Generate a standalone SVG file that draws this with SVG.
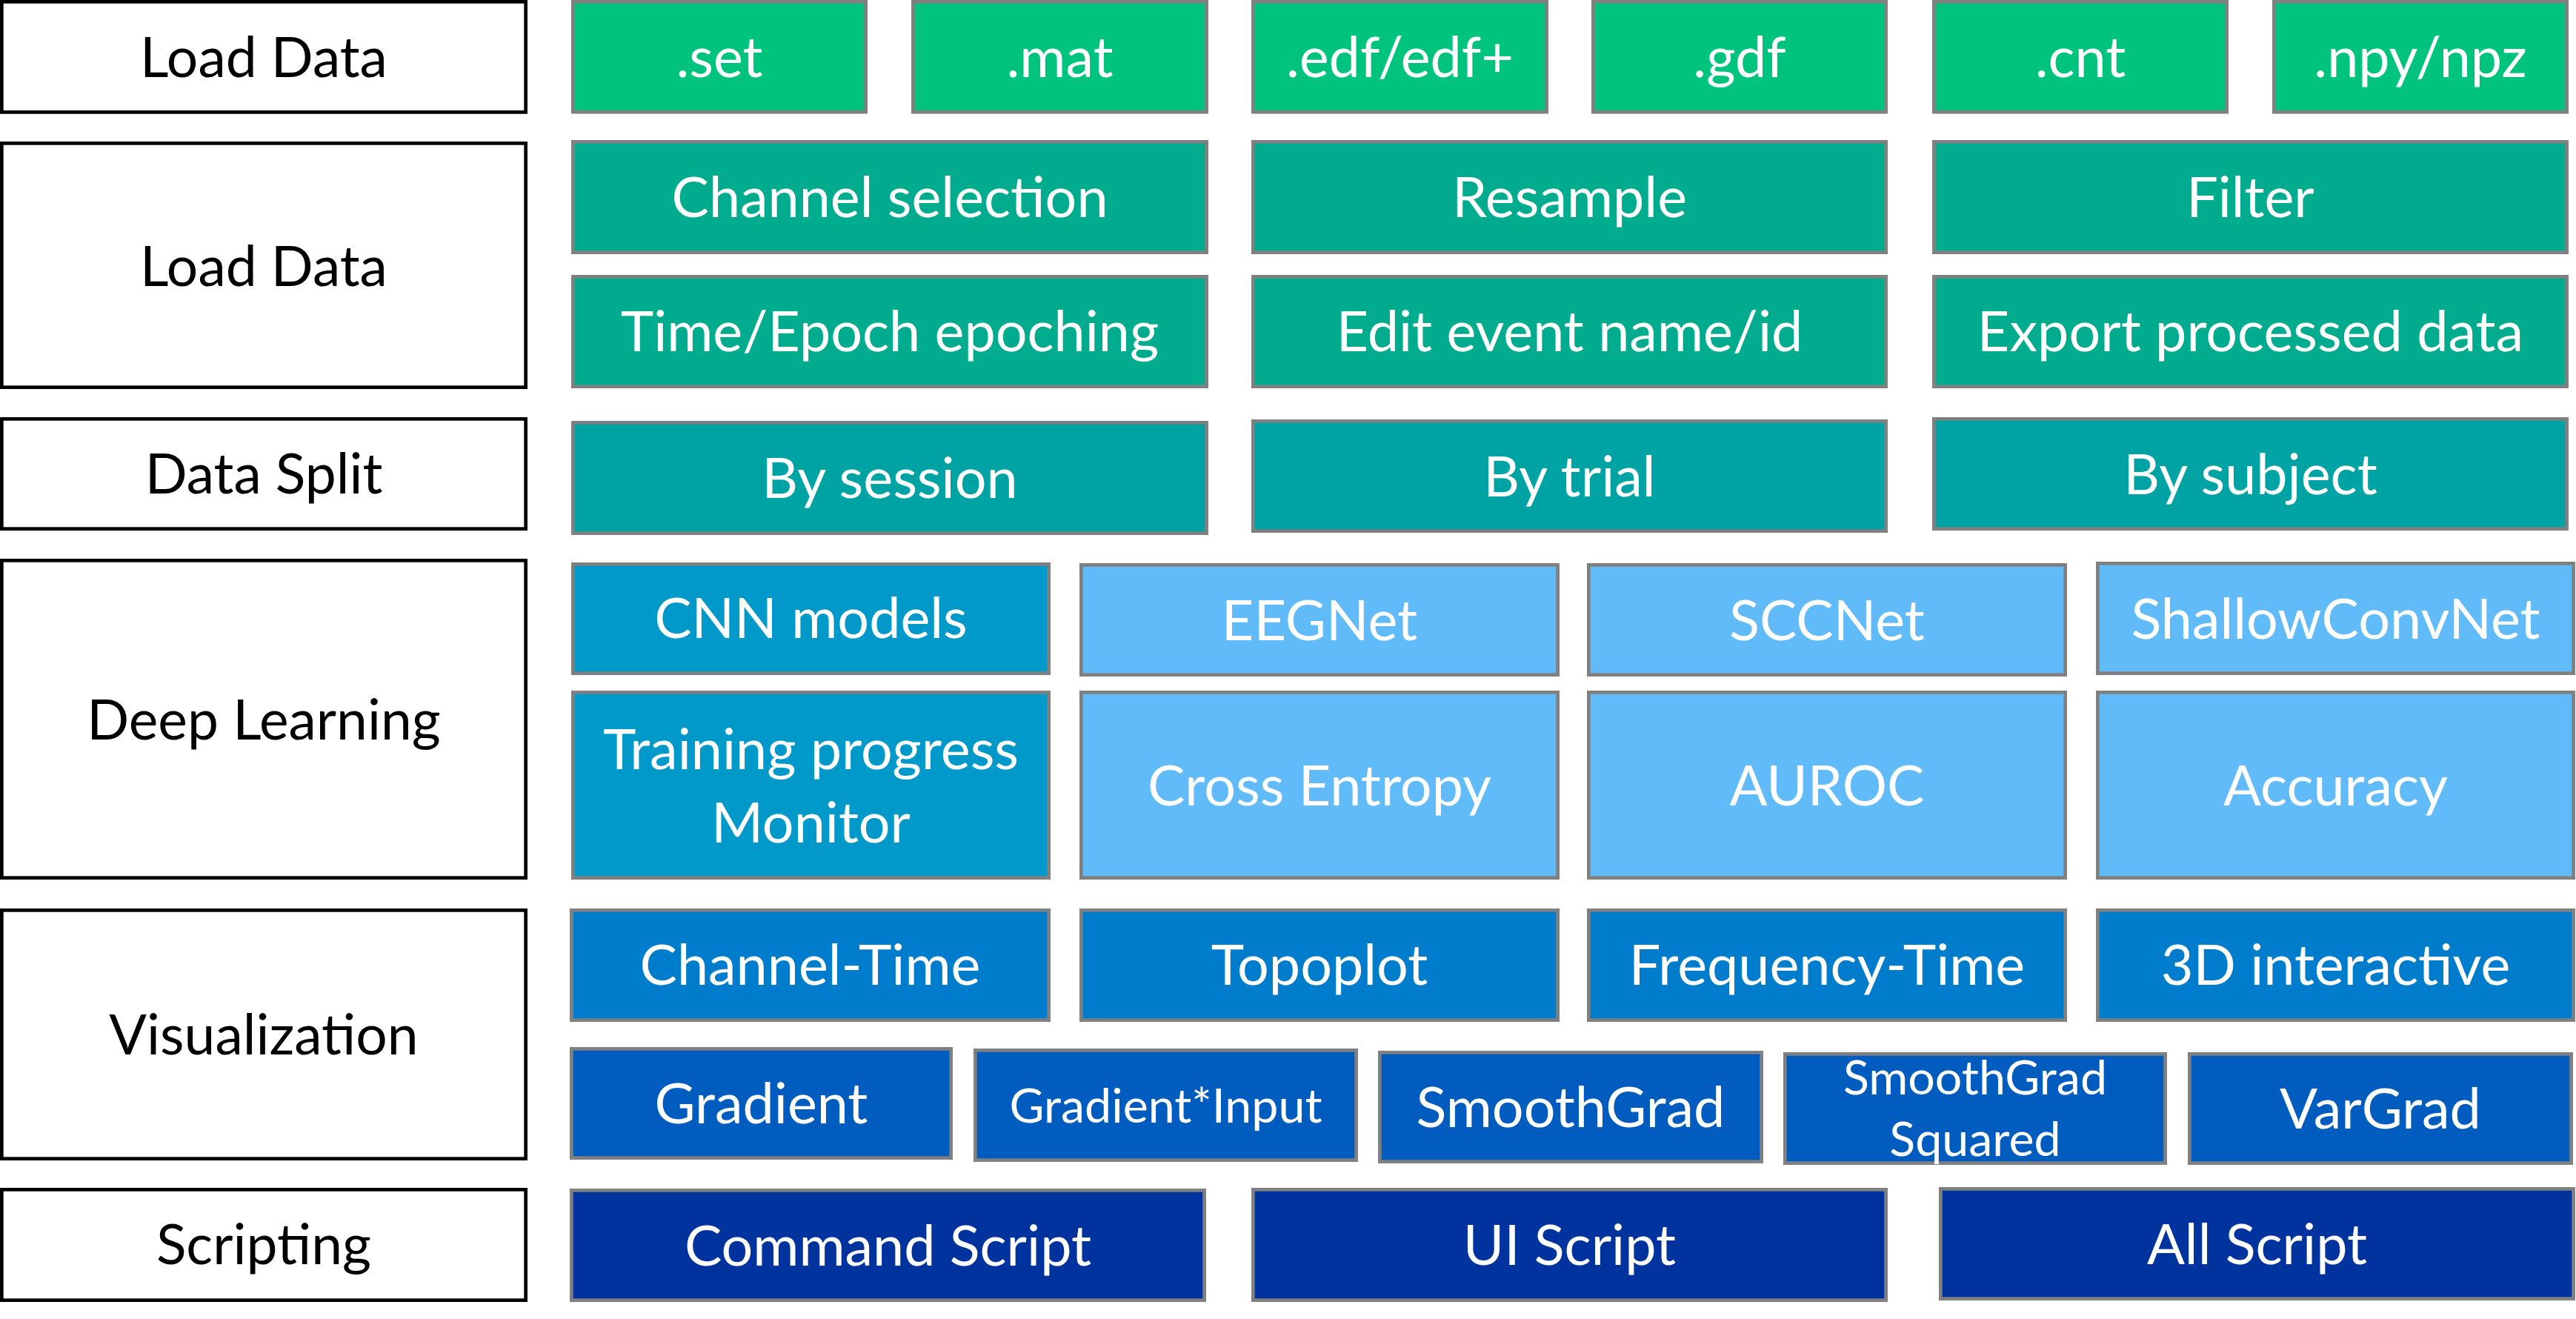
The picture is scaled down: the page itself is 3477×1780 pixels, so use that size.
<svg xmlns="http://www.w3.org/2000/svg" width="3477" height="1780" viewBox="0 0 3477 1780">
<style>
  .lab rect { fill: #ffffff; stroke: #000000; stroke-width: 4.7; }
  .lab text { fill: #000000; font-family: Lato, "Open Sans", "Liberation Sans", sans-serif; font-size: 75px; text-anchor: middle; }
  .nd rect { stroke: #808080; stroke-width: 4.7; }
  .nd text { fill: #ffffff; font-family: Lato, "Open Sans", "Liberation Sans", sans-serif; font-size: 75.5px; text-anchor: middle; }
  .nd text.sm { font-size: 64.5px; }
  .c1 rect { fill: #00C37E; }
  .c2 rect { fill: #00AB8E; }
  .c3 rect { fill: #00A3A3; }
  .c4 rect { fill: #0099C9; }
  .c5 rect { fill: #62BBF9; }
  .c6 rect { fill: #007CCC; }
  .c7 rect { fill: #005CBF; }
  .c8 rect { fill: #00339E; }
</style>
<rect x="0" y="0" width="3477" height="1780" fill="#ffffff"/>

<g id="labels">
  <g id="label-load" class="lab"><rect x="2.35" y="2.35" width="707.3" height="149"/><text x="356" y="104">Load Data</text></g>
  <g id="label-preprocess" class="lab"><rect x="2.35" y="193.35" width="707.3" height="329.3"/><text x="356" y="386">Load Data</text></g>
  <g id="label-split" class="lab"><rect x="2.35" y="565.35" width="707.3" height="148.3"/><text x="356" y="666">Data Split</text></g>
  <g id="label-dl" class="lab"><rect x="2.35" y="756.35" width="707.3" height="428.3"/><text x="356" y="997.5">Deep Learning</text></g>
  <g id="label-vis" class="lab"><rect x="2.35" y="1228.35" width="707.3" height="335.3"/><text x="356" y="1423">Visualization</text></g>
  <g id="label-script" class="lab"><rect x="2.35" y="1605.35" width="707.3" height="149.3"/><text x="356" y="1706">Scripting</text></g>
</g>

<g id="row-load" class="nd c1">
  <g id="n-set"><rect x="773.35" y="2.35" width="395.3" height="148.8"/><text x="971" y="104">.set</text></g>
  <g id="n-mat"><rect x="1232.35" y="2.35" width="396.3" height="148.8"/><text x="1430.5" y="104">.mat</text></g>
  <g id="n-edf"><rect x="1691.35" y="2.35" width="396.3" height="148.8"/><text x="1889.5" y="104">.edf/edf+</text></g>
  <g id="n-gdf"><rect x="2150.35" y="2.35" width="395.3" height="148.8"/><text x="2348" y="104">.gdf</text></g>
  <g id="n-cnt"><rect x="2610.35" y="2.35" width="395.3" height="148.8"/><text x="2808" y="104">.cnt</text></g>
  <g id="n-npy"><rect x="3069.35" y="2.35" width="395.3" height="148.8"/><text x="3267" y="104">.npy/npz</text></g>
</g>

<g id="row-preprocess" class="nd c2">
  <g id="n-chsel"><rect x="773.35" y="191.35" width="855.3" height="149.3"/><text x="1201" y="293">Channel selection</text></g>
  <g id="n-resample"><rect x="1691.35" y="191.35" width="854.3" height="149.3"/><text x="2118.5" y="293">Resample</text></g>
  <g id="n-filter"><rect x="2610.35" y="191.35" width="854.3" height="149.3"/><text x="3037.5" y="293">Filter</text></g>
  <g id="n-epoch"><rect x="773.35" y="373.35" width="855.3" height="148.3"/><text x="1201" y="474">Time/Epoch epoching</text></g>
  <g id="n-event"><rect x="1691.35" y="373.35" width="854.3" height="148.3"/><text x="2118.5" y="474">Edit event name/id</text></g>
  <g id="n-export"><rect x="2610.35" y="373.35" width="854.3" height="148.3"/><text x="3037.5" y="474">Export processed data</text></g>
</g>

<g id="row-split" class="nd c3">
  <g id="n-session"><rect x="773.35" y="570.35" width="855.3" height="149.3"/><text x="1201" y="672">By session</text></g>
  <g id="n-trial"><rect x="1691.35" y="568.35" width="854.3" height="148.3"/><text x="2118.5" y="669.5">By trial</text></g>
  <g id="n-subject"><rect x="2610.35" y="565.35" width="854.3" height="148.3"/><text x="3037.5" y="666.5">By subject</text></g>
</g>

<g id="row-dl" class="nd">
  <g id="n-cnn" class="c4"><rect x="773.35" y="761.35" width="642.3" height="147.3"/><text x="1094.5" y="861">CNN models</text></g>
  <g id="n-eegnet" class="c5"><rect x="1459.35" y="762.35" width="643.3" height="148.3"/><text x="1781" y="863.5">EEGNet</text></g>
  <g id="n-sccnet" class="c5"><rect x="2144.35" y="762.35" width="643.3" height="148.3"/><text x="2466" y="863.5">SCCNet</text></g>
  <g id="n-shallow" class="c5"><rect x="2831.35" y="760.35" width="642.3" height="148.3"/><text x="3152.5" y="861.5">ShallowConvNet</text></g>
  <g id="n-monitor" class="c4"><rect x="773.35" y="934.35" width="642.3" height="250.3"/><text x="1094.5" y="1037.5">Training progress</text><text x="1094.5" y="1136.5">Monitor</text></g>
  <g id="n-ce" class="c5"><rect x="1459.35" y="934.35" width="643.3" height="250.3"/><text x="1781" y="1087">Cross Entropy</text></g>
  <g id="n-auroc" class="c5"><rect x="2144.35" y="934.35" width="643.3" height="250.3"/><text x="2466" y="1087">AUROC</text></g>
  <g id="n-acc" class="c5"><rect x="2831.35" y="934.35" width="642.3" height="250.3"/><text x="3152.5" y="1087">Accuracy</text></g>
</g>

<g id="row-vis" class="nd">
  <g id="n-chtime" class="c6"><rect x="771.35" y="1228.35" width="644.3" height="148.3"/><text x="1093.5" y="1329">Channel-Time</text></g>
  <g id="n-topo" class="c6"><rect x="1459.35" y="1228.35" width="643.3" height="148.3"/><text x="1781" y="1329">Topoplot</text></g>
  <g id="n-freq" class="c6"><rect x="2144.35" y="1228.35" width="643.3" height="148.3"/><text x="2466" y="1329">Frequency-Time</text></g>
  <g id="n-3d" class="c6"><rect x="2831.35" y="1228.35" width="642.3" height="148.3"/><text x="3152.5" y="1329">3D interactive</text></g>
  <g id="n-grad" class="c7"><rect x="771.35" y="1415.35" width="512.3" height="147.3"/><text x="1027.5" y="1516">Gradient</text></g>
  <g id="n-gradinput" class="c7"><rect x="1316.35" y="1417.35" width="514.3" height="148.3"/><text class="sm" x="1573.5" y="1514.5">Gradient*Input</text></g>
  <g id="n-smooth" class="c7"><rect x="1862.35" y="1420.35" width="515.3" height="147.3"/><text x="2120" y="1521">SmoothGrad</text></g>
  <g id="n-smoothsq" class="c7"><rect x="2409.35" y="1422.35" width="513.3" height="147.3"/><text class="sm" x="2666" y="1477">SmoothGrad</text><text class="sm" x="2666" y="1560">Squared</text></g>
  <g id="n-vargrad" class="c7"><rect x="2955.35" y="1422.35" width="515.3" height="147.3"/><text x="3213" y="1523">VarGrad</text></g>
</g>

<g id="row-script" class="nd c8">
  <g id="n-cmd"><rect x="771.35" y="1606.35" width="854.3" height="148.3"/><text x="1198.5" y="1707.5">Command Script</text></g>
  <g id="n-ui"><rect x="1691.35" y="1605.35" width="854.3" height="149.3"/><text x="2118.5" y="1707">UI Script</text></g>
  <g id="n-all"><rect x="2619.35" y="1604.35" width="854.3" height="148.3"/><text x="3046.5" y="1705.5">All Script</text></g>
</g>

<g id="connectors"></g>
</svg>
